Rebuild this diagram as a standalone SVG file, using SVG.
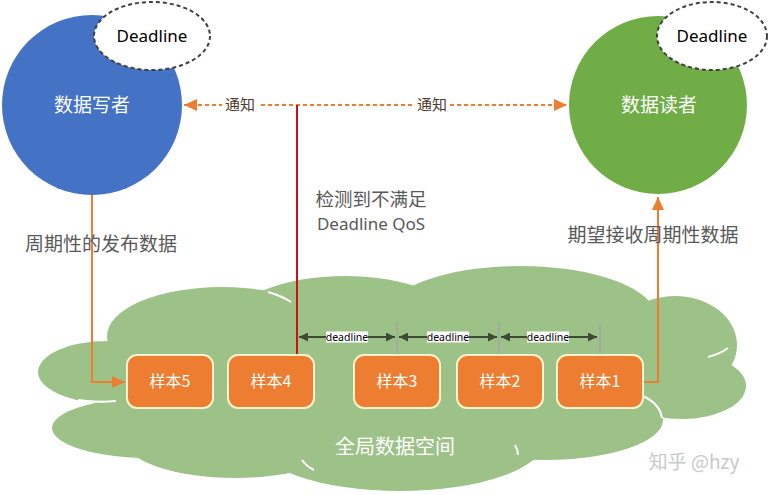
<svg xmlns="http://www.w3.org/2000/svg" width="768" height="495" viewBox="0 0 768 495">
<defs>
<style>
.cjk{font-family:"Noto Sans CJK SC","Noto Sans",sans-serif;}
.lat{font-family:"Noto Sans","Open Sans",sans-serif;}
.box{fill:#ED7D31;stroke:#FFF2CC;stroke-width:2;}
.boxt{fill:#FFFFFF;font-size:16px;text-anchor:middle;}
.gray{fill:#595959;}
.dl{stroke:#3E4A36;stroke-width:2;fill:none;}
.tick{stroke:#A6A6A6;stroke-width:1.5;}
.dlab{font-size:10.5px;fill:#000;text-anchor:middle;}
.cloud{fill:#9DC288;}
.arc{fill:none;stroke:#FFFFFF;stroke-width:2;}
.ell{fill:#FFFFFF;stroke:#404040;stroke-width:2;stroke-dasharray:4 3;}
.org{stroke:#ED7D31;stroke-width:2;fill:none;}
</style>
<marker id="oa" viewBox="0 0 10 10" refX="10" refY="5" markerWidth="13" markerHeight="12" markerUnits="userSpaceOnUse" orient="auto-start-reverse" preserveAspectRatio="none">
<path d="M0,0 L10,5 L0,10 z" fill="#ED7D31"/>
</marker>
<marker id="da" viewBox="0 0 10 10" refX="10" refY="5" markerWidth="4.5" markerHeight="4.5" orient="auto-start-reverse">
<path d="M0,0 L10,5 L0,10 z" fill="#3E4A36"/>
</marker>
</defs>
<rect width="768" height="495" fill="#FFFFFF"/>

<g id="cloud">
<ellipse class="cloud" cx="108" cy="372" rx="70" ry="31"/>
<ellipse class="cloud" cx="150" cy="428" rx="98" ry="30"/>
<ellipse class="cloud" cx="222" cy="336" rx="115" ry="49"/>
<ellipse class="cloud" cx="345" cy="322" rx="112" ry="46"/>
<ellipse class="cloud" cx="520" cy="316" rx="135" ry="50"/>
<ellipse class="cloud" cx="675" cy="345" rx="62" ry="49"/>
<ellipse class="cloud" cx="682" cy="386" rx="64" ry="33"/>
<ellipse class="cloud" cx="545" cy="420" rx="118" ry="40"/>
<ellipse class="cloud" cx="400" cy="440" rx="145" ry="51"/>
<ellipse class="cloud" cx="235" cy="440" rx="110" ry="38"/>
<ellipse class="cloud" cx="410" cy="382" rx="290" ry="68"/>
<path class="arc" d="M268,292 Q282,296 291,302"/>
<path class="arc" d="M78,400 Q98,403 116,401"/>
<path class="arc" d="M302,460 Q306,466 314,470"/>
<path class="arc" d="M708,357 Q720,354 728,348"/>
<path class="arc" d="M643,396 Q660,404 662,418"/>
<path class="arc" d="M515,445 Q518,450 518,455"/>
<text class="cjk" x="395" y="454" font-size="20" fill="#FFFFFF" text-anchor="middle">全局数据空间</text>
</g>

<g id="writer">
<circle cx="92" cy="105" r="90" fill="#4472C4"/>
<ellipse class="ell" cx="152" cy="36" rx="58" ry="34"/>
<text class="lat" x="152" y="42" font-size="17" fill="#000" text-anchor="middle">Deadline</text>
<text class="cjk" x="92" y="112" font-size="19" fill="#FFFFFF" text-anchor="middle">数据写者</text>
</g>

<g id="reader">
<circle cx="658" cy="105" r="89" fill="#70AD47"/>
<ellipse class="ell" cx="712" cy="36" rx="55" ry="34"/>
<text class="lat" x="712" y="42" font-size="17" fill="#000" text-anchor="middle">Deadline</text>
<text class="cjk" x="659" y="112" font-size="19" fill="#FFFFFF" text-anchor="middle">数据读者</text>
</g>

<g id="connectors">
<line x1="184" y1="105" x2="567" y2="105" stroke="#ED7D31" stroke-width="2" stroke-dasharray="4 3" marker-start="url(#oa)" marker-end="url(#oa)"/>
<rect x="222" y="95" width="36" height="20" fill="#FFFFFF"/>
<text class="cjk" x="240" y="110" font-size="15" fill="#4A3B2E" text-anchor="middle">通知</text>
<rect x="414" y="95" width="36" height="20" fill="#FFFFFF"/>
<text class="cjk" x="432" y="110" font-size="15" fill="#4A3B2E" text-anchor="middle">通知</text>

<line x1="297" y1="105" x2="297" y2="356" stroke="#D01010" stroke-width="2"/>

<path class="org" d="M92,195 L92,382 L125,382" marker-end="url(#oa)"/>
<path class="org" d="M643,382 L658,382 L658,197" marker-end="url(#oa)"/>

<line class="tick" x1="397" y1="322" x2="397" y2="356"/>
<line class="tick" x1="499" y1="322" x2="499" y2="356"/>
<line class="tick" x1="600" y1="322" x2="600" y2="356"/>

<line class="dl" x1="299" y1="337" x2="395" y2="337" marker-start="url(#da)" marker-end="url(#da)"/>
<line class="dl" x1="399" y1="337" x2="497" y2="337" marker-start="url(#da)" marker-end="url(#da)"/>
<line class="dl" x1="501" y1="337" x2="597" y2="337" marker-start="url(#da)" marker-end="url(#da)"/>
<rect x="326" y="331.5" width="42" height="11" fill="#FFFFFF"/>
<rect x="427" y="331.5" width="42" height="11" fill="#FFFFFF"/>
<rect x="527" y="331.5" width="42" height="11" fill="#FFFFFF"/>
<text class="lat dlab" x="347" y="341">deadline</text>
<text class="lat dlab" x="448" y="341">deadline</text>
<text class="lat dlab" x="548" y="341">deadline</text>
</g>

<g id="s5"><rect class="box" x="127" y="355" width="86" height="53" rx="10"/><text class="cjk boxt" x="170" y="387">样本5</text></g>
<g id="s4"><rect class="box" x="228" y="355" width="86" height="53" rx="10"/><text class="cjk boxt" x="271" y="387">样本4</text></g>
<g id="s3"><rect class="box" x="354" y="355" width="86" height="53" rx="10"/><text class="cjk boxt" x="397" y="387">样本3</text></g>
<g id="s2"><rect class="box" x="457" y="355" width="86" height="53" rx="10"/><text class="cjk boxt" x="500" y="387">样本2</text></g>
<g id="s1"><rect class="box" x="557" y="355" width="86" height="53" rx="10"/><text class="cjk boxt" x="600" y="387">样本1</text></g>

<g id="labels">
<text class="cjk gray" x="371" y="206" font-size="18.5" text-anchor="middle">检测到不满足</text>
<text class="lat gray" x="371" y="230" font-size="17" text-anchor="middle">Deadline QoS</text>
<text class="cjk gray" x="101" y="251" font-size="19" text-anchor="middle">周期性的发布数据</text>
<text class="cjk gray" x="653" y="242" font-size="19" text-anchor="middle">期望接收周期性数据</text>
<text class="cjk" x="694" y="469" font-size="19" fill="#C9C9C9" text-anchor="middle">知乎 @hzy</text>
</g>
</svg>
